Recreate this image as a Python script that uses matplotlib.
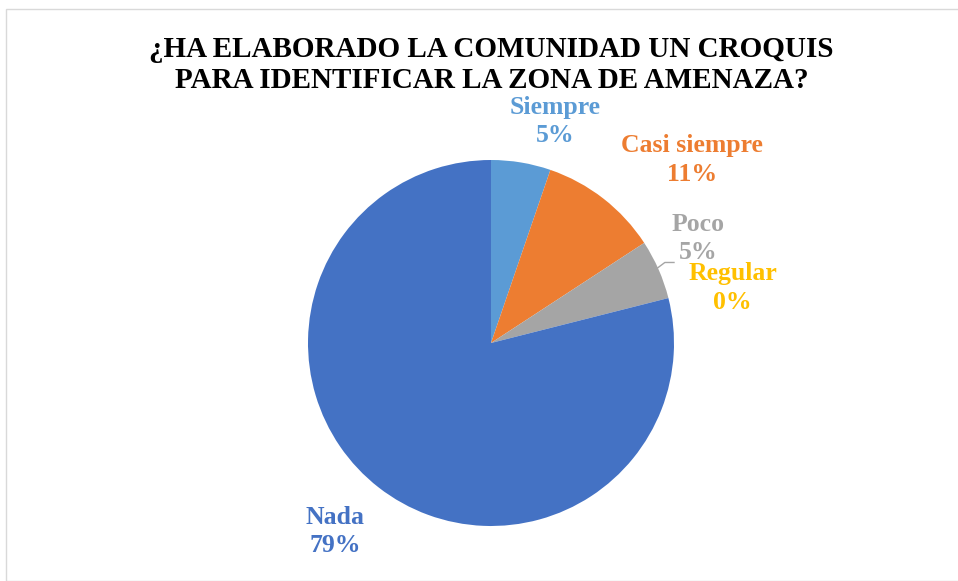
import numpy as np
import matplotlib
matplotlib.use("Agg")
import matplotlib.pyplot as plt
from matplotlib.patches import Rectangle

# survey answers (counts read as percentages)
categories = ["Siempre", "Casi siempre", "Poco", "Regular", "Nada"]
values = [5.26, 10.53, 5.26, 0.0, 78.95]
colors = ["#5B9BD5", "#ED7D31", "#A5A5A5", "#FFC000", "#4472C4"]
title = "¿HA ELABORADO LA COMUNIDAD UN CROQUIS\nPARA IDENTIFICAR LA ZONA DE AMENAZA?"

# label placement (axes data units, pie radius = 1)
label_pos = [(0.35, 1.21), (1.10, 1.00), (1.13, 0.57), (1.32, 0.30), (-0.85, -1.03)]

plt.rcParams["font.family"] = ["Liberation Serif", "DejaVu Serif"]

fig = plt.figure(figsize=(9.58, 5.81), dpi=100)
fig.patches.append(Rectangle((6 / 958, 0), 1, 1 - 9 / 581, transform=fig.transFigure,
                             fill=False, edgecolor="#D9D9D9", linewidth=1.0))

ax = fig.add_axes([(491 - 183) / 958, (238 - 183) / 581, 366 / 958, 366 / 581])
wedges, _ = ax.pie(values, colors=colors, startangle=90, counterclock=False,
                   radius=1, wedgeprops=dict(linewidth=0))
ax.set_xlim(-1, 1)
ax.set_ylim(-1, 1)
ax.set_aspect("auto")
ax.axis("off")

total = sum(values)
for cat, v, c, (lx, ly) in zip(categories, values, colors, label_pos):
    ax.text(lx, ly, f"{cat}\n{v / total * 100:.0f}%", color=c, fontsize=18.5,
            fontweight="bold", ha="center", va="center", linespacing=1.3,
            clip_on=False)

# leader line for "Poco"
ax.plot([0.91, 0.95, 1.0], [0.41, 0.44, 0.44], color="#A5A5A5", lw=1, clip_on=False)

fig.text(0.513, 0.888, title, ha="center", va="center", fontsize=21,
         fontweight="bold", linespacing=1.2)

fig.savefig("out.png", dpi=100)
